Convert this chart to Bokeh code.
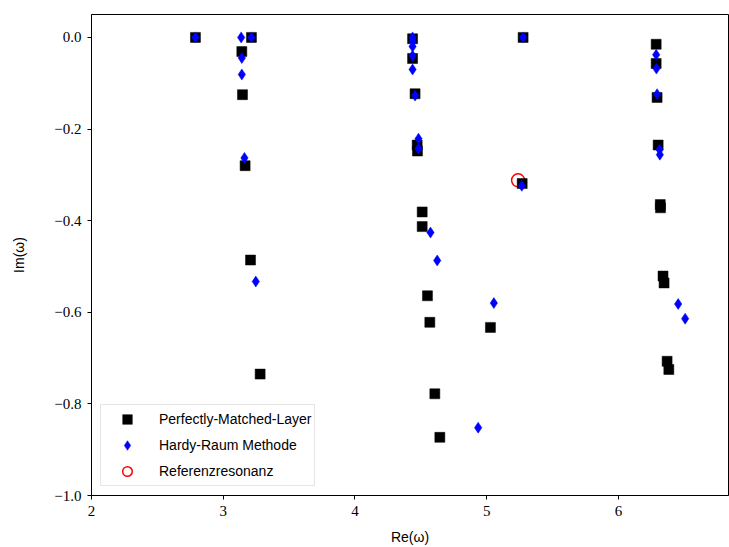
from bokeh.plotting import figure
from bokeh.models import Range1d, FixedTicker, CustomJSTickFormatter, Legend, LegendItem
from bokeh.embed import file_html
from bokeh.resources import INLINE

# Perfectly-Matched-Layer resonances
pml_re = [2.789, 3.214, 3.141, 3.146, 3.166, 3.207, 3.280,
          4.437, 4.437, 4.456, 4.472, 4.474, 4.510, 4.510, 4.550, 4.568, 4.606, 4.644,
          5.028, 5.276, 5.269,
          6.286, 6.286, 6.293, 6.301, 6.317, 6.319, 6.338, 6.346, 6.369, 6.382]
pml_im = [0.0, 0.0, -0.031, -0.125, -0.280, -0.486, -0.735,
          -0.003, -0.046, -0.123, -0.235, -0.248, -0.381, -0.413, -0.564, -0.622, -0.778, -0.873,
          -0.633, 0.0, -0.319,
          -0.015, -0.057, -0.131, -0.235, -0.365, -0.372, -0.521, -0.536, -0.707, -0.725]

# Hardy-Raum Methode resonances
hardy_re = [2.789, 3.136, 3.214, 3.141, 3.141, 3.161, 3.247,
            4.437, 4.437, 4.437, 4.437, 4.437, 4.456, 4.482, 4.482, 4.573, 4.624,
            4.935, 5.054, 5.276, 5.266,
            6.286, 6.288, 6.293, 6.312, 6.314, 6.453, 6.506]
hardy_im = [0.0, 0.0, 0.0, -0.045, -0.081, -0.263, -0.533,
            0.0, -0.008, -0.020, -0.040, -0.070, -0.127, -0.221, -0.243, -0.426, -0.487,
            -0.852, -0.580, 0.0, -0.324,
            -0.038, -0.068, -0.124, -0.245, -0.256, -0.582, -0.614]

# Reference resonance
ref_re = [5.238]
ref_im = [-0.312]

x_ticks = [2, 3, 4, 5, 6]
y_ticks = [-1.0, -0.8, -0.6, -0.4, -0.2, 0.0]

p = figure(width=729, height=547, output_backend="svg", toolbar_location=None,
           x_range=Range1d(2, 6.835), y_range=Range1d(-1.0, 0.05),
           min_border_left=91, min_border_right=1, min_border_top=14, min_border_bottom=51)

p.xgrid.visible = False
p.ygrid.visible = False
p.outline_line_color = "black"
p.outline_line_width = 1
p.background_fill_color = "white"
p.border_fill_color = "white"

r_ref = p.scatter(ref_re, ref_im, marker="circle", size=13, fill_color=None,
                  line_color="#ff0000", line_width=1.5)
r_pml = p.scatter(pml_re, pml_im, marker="square", size=10, fill_color="black",
                  line_color="black", line_width=0.5)
r_hardy = p.scatter(hardy_re, hardy_im, marker="diamond", size=11, fill_color="#0000ff",
                    line_color="#0000ff", line_width=0.5)

p.xaxis.ticker = FixedTicker(ticks=x_ticks)
p.yaxis.ticker = FixedTicker(ticks=y_ticks)
fmt = CustomJSTickFormatter(code="""
var s = Math.abs(tick).toFixed(1);
if (tick < -1e-9) { return '\u2212' + s; }
return s;
""")
p.yaxis.formatter = fmt
p.xaxis.formatter = CustomJSTickFormatter(code="return Math.round(tick).toString();")

for ax in (p.xaxis, p.yaxis):
    ax.axis_line_color = "black"
    ax.axis_line_width = 1
    ax.major_tick_line_color = "black"
    ax.major_tick_out = 4
    ax.major_tick_in = 0
    ax.minor_tick_line_color = None
    ax.major_label_text_font = "Liberation Serif"
    ax.major_label_text_font_size = "15px"
    ax.major_label_text_color = "black"
    ax.major_label_standoff = 6
    ax.axis_label_text_font = "Liberation Sans"
    ax.axis_label_text_font_size = "14px"
    ax.axis_label_text_font_style = "normal"
    ax.axis_label_text_color = "black"

p.xaxis.axis_label = "Re(ω)"
p.yaxis.axis_label = "Im(ω)"
p.xaxis.axis_label_standoff = 10
p.yaxis.axis_label_standoff = 24

legend = Legend(items=[
    LegendItem(label="Perfectly-Matched-Layer", renderers=[r_pml]),
    LegendItem(label="Hardy-Raum Methode", renderers=[r_hardy]),
    LegendItem(label="Referenzresonanz", renderers=[r_ref]),
], location="bottom_left")
legend.margin = 9
legend.padding = 2
legend.spacing = 2
legend.label_height = 24
legend.glyph_height = 24
legend.glyph_width = 48
legend.label_standoff = 8
legend.label_text_font = "Liberation Sans"
legend.label_text_font_size = "14px"
legend.label_text_color = "black"
legend.border_line_color = "#cccccc"
legend.border_line_width = 1
legend.background_fill_color = "white"
legend.background_fill_alpha = 0.8
p.add_layout(legend)

open("out.html", "w").write(file_html(p, INLINE))
